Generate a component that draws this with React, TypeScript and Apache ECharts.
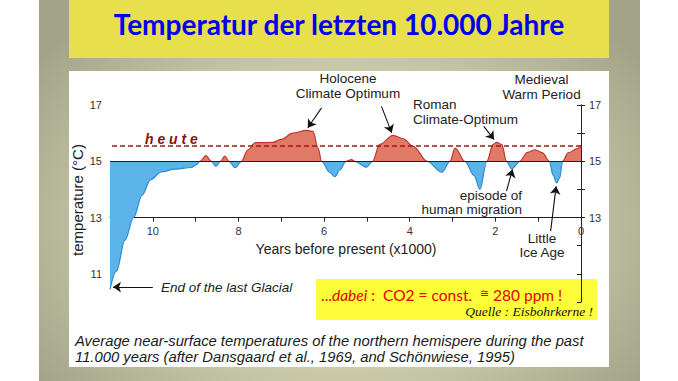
import React, { useEffect, useRef } from "react";
import * as echarts from "echarts";

// Years before present (x1000) and temperature (°C)
const years = [
  11, 10.85, 10.65, 10.45, 10.25, 10.05, 9.8, 9.5, 9.1, 8.98, 8.9, 8.76, 8.63, 8.53, 8.42, 8.32, 8.22, 8.08,
  7.93, 7.78, 7.6, 7.2, 7.0, 6.73, 6.41, 6.26, 6.14, 6.06, 5.86, 5.75, 5.63, 5.49, 5.36, 5.28, 5.01, 4.87,
  4.7, 4.39, 4.15, 3.92, 3.59, 3.25, 3.06, 2.94, 2.71, 2.5, 2.36, 2.2, 2.05, 1.97, 1.85, 1.74, 1.62, 1.43,
  1.25, 1.07, 0.9, 0.74, 0.65, 0.57, 0.5, 0.43, 0.3, 0.1, 0,
];
const temps = [
  10.45, 11.1, 12.2, 13.0, 13.8, 14.35, 14.62, 14.72, 14.78, 14.88, 15.0, 15.2, 15.0, 14.82, 15.0, 15.18, 15.0, 14.77,
  15.0, 15.41, 15.66, 15.67, 15.78, 16.0, 16.1, 16.06, 15.47, 15.0, 14.6, 14.45, 14.7, 15.0, 15.06, 15.0, 14.79, 15.0,
  15.6, 15.92, 15.8, 15.53, 15.0, 14.61, 15.0, 15.47, 15.0, 14.5, 14.0, 15.0, 15.6, 15.67, 15.6, 15.0, 14.73, 15.0,
  15.32, 15.41, 15.3, 15.0, 14.5, 14.23, 14.4, 15.0, 15.3, 15.44, 15.56,
];
const baseline = 15;
const heute = 15.55;
const leftTickLabels = [11, 13, 15, 17];
const rightTickLabels = [13, 15, 17];
const xTickLabels = [10, 8, 6, 4, 2, 0];
// annotation arrows: [from (year, temp), to (year, temp)]
const arrowFrom = [
  [6.06, 16.9], [4.66, 16.95], [2.27, 16.24], [0.84, 17.09], [1.74, 13.94], [0.71, 12.52], [10.0, 10.53],
];
const arrowTo = [
  [6.38, 16.19], [4.42, 16.01], [2.03, 15.77], [1.07, 15.59], [1.6, 14.71], [0.58, 14.11], [10.93, 10.53],
];

const SANS = "'Liberation Sans', Arial, Helvetica, sans-serif";
const TXT = "#222";

function txt(x: number, y: number, text: string, extra: any = {}) {
  return {
    type: "text",
    x,
    y,
    silent: true,
    style: {
      text,
      fill: TXT,
      fontFamily: SANS,
      fontSize: 13.5,
      align: "center",
      verticalAlign: "middle",
      ...extra,
    },
  };
}

export default function App() {
  const ref = useRef<HTMLDivElement>(null);
  useEffect(() => {
    document.body.style.margin = "0";
    const chart = echarts.init(ref.current!, null, { renderer: "svg" });
    const data = years.map((y, i) => [y, temps[i]]);
    const axisLine = { show: true, lineStyle: { color: "#222", width: 1 } };
    const axisTick = { show: true, length: 4, lineStyle: { color: "#222", width: 1 } };
    const labelStyle = { color: "#333", fontSize: 11, fontFamily: SANS, margin: 8 };

    const arrows = arrowFrom.map((f, i) => [
      { coord: f, symbol: "none", lineStyle: { color: "#111", width: 1.1, type: "solid" } },
      { coord: arrowTo[i], symbol: "arrow", symbolSize: 8 },
    ]);

    const option: any = {
      animation: false,
      backgroundColor: "transparent",
      grid: [
        { left: 110, top: 105, width: 471, height: 197, containLabel: false, outerBoundsMode: "none" },
        { left: 110, top: 105, width: 471, height: (197 * 4) / 7, containLabel: false, outerBoundsMode: "none" },
      ],
      xAxis: [
        { gridIndex: 0, type: "value", min: 0, max: 11, inverse: true, show: false },
        {
          gridIndex: 1,
          type: "value",
          min: 0,
          max: 11,
          interval: 1,
          inverse: true,
          position: "bottom",
          axisLine,
          axisTick,
          splitLine: { show: false },
          axisLabel: {
            ...labelStyle,
            formatter: (v: number) => (xTickLabels.includes(v) ? String(v) : ""),
          },
        },
      ],
      yAxis: [
        {
          gridIndex: 0,
          type: "value",
          min: 10,
          max: 17,
          interval: 1,
          position: "left",
          axisLine,
          axisTick,
          splitLine: { show: false },
          axisLabel: {
            ...labelStyle,
            formatter: (v: number) => (leftTickLabels.includes(v) ? String(v) : ""),
          },
        },
        {
          gridIndex: 1,
          type: "value",
          min: 13,
          max: 17,
          interval: 1,
          position: "right",
          axisLine,
          axisTick,
          splitLine: { show: false },
          axisLabel: {
            ...labelStyle,
            formatter: (v: number) => (rightTickLabels.includes(v) ? String(v) : ""),
          },
        },
      ],
      visualMap: [
        {
          type: "piecewise",
          show: false,
          seriesIndex: 0,
          dimension: 1,
          pieces: [
            { gt: baseline, lte: 30, color: "#e07a66" },
            { gte: 0, lte: baseline, color: "#5cb3ea" },
          ],
        },
        {
          type: "piecewise",
          show: false,
          seriesIndex: 1,
          dimension: 1,
          pieces: [
            { gt: baseline, lte: 30, color: "#c2352b" },
            { gte: 0, lte: baseline, color: "#2f8ad4" },
          ],
        },
      ],
      series: [
        {
          type: "line",
          xAxisIndex: 0,
          yAxisIndex: 0,
          data,
          smooth: 0.35,
          smoothMonotone: "x",
          showSymbol: false,
          silent: true,
          lineStyle: { width: 0, opacity: 0 },
          areaStyle: { origin: baseline, opacity: 1 },
          z: 2,
        },
        {
          type: "line",
          xAxisIndex: 0,
          yAxisIndex: 0,
          data,
          smooth: 0.35,
          smoothMonotone: "x",
          showSymbol: false,
          silent: true,
          clip: false,
          lineStyle: { width: 1.2 },
          z: 3,
          markLine: {
            silent: true,
            symbol: "none",
            label: { show: false },
            animation: false,
            data: [
              { yAxis: baseline, lineStyle: { color: "#222", width: 1, type: "solid" } },
              { yAxis: heute, lineStyle: { color: "#a0191a", width: 1.6, type: [5, 3] } },
              ...arrows,
            ],
          },
        },
      ],
      graphic: [
        txt(339, 24, "Temperatur der letzten 10.000 Jahre", {
          fontFamily: "Lato, 'Open Sans', sans-serif",
          fontWeight: "bold",
          fontSize: 28,
          fill: "#0000ee",
        }),
        txt(348, 78.5, "Holocene"),
        txt(348, 93.5, "Climate Optimum"),
        txt(413, 104.5, "Roman", { align: "left" }),
        txt(413, 119, "Climate-Optimum", { align: "left" }),
        txt(541.5, 79, "Medieval"),
        txt(541.5, 94, "Warm Period"),
        txt(522, 195, "episode of", { align: "right" }),
        txt(522, 209, "human migration", { align: "right" }),
        txt(542, 238, "Little"),
        txt(542, 252.5, "Ice Age"),
        txt(161, 287.5, "End of the last Glacial", { align: "left", fontStyle: "italic" }),
        txt(346, 249, "Years before present (x1000)", { fontSize: 14 }),
        {
          type: "text",
          x: 77,
          y: 200,
          rotation: Math.PI / 2,
          silent: true,
          style: {
            text: "temperature (°C)",
            fill: TXT,
            fontFamily: SANS,
            fontSize: 15,
            align: "center",
            verticalAlign: "middle",
          },
        },
        txt(145, 139, "h e u t e", {
          align: "left",
          fontWeight: "bold",
          fontStyle: "italic",
          fontSize: 14,
          fill: "#8b1010",
        }),
        {
          type: "text",
          x: 321,
          y: 295,
          silent: true,
          style: {
            text: "{n|...}{i|dabei}{n| :  CO2 = const.  }{s|≅}{n| 280 ppm !}",
            align: "left",
            verticalAlign: "middle",
            rich: {
              n: { fill: "#e60000", fontSize: 15.5, fontFamily: "Lato, sans-serif" },
              i: { fill: "#e60000", fontSize: 15.5, fontFamily: "Lato, sans-serif", fontStyle: "italic" },
              s: { fill: "#e60000", fontSize: 11, fontFamily: "Lato, sans-serif", verticalAlign: "top" },
            },
          },
        },
        txt(593, 311.5, "Quelle : Eisbohrkerne !", {
          align: "right",
          fontFamily: "'Liberation Serif', 'DejaVu Serif', serif",
          fontStyle: "italic",
          fontSize: 13.5,
          fill: "#111",
        }),
        txt(75, 340.5, "Average near-surface temperatures of the northern hemispere during the past", {
          align: "left",
          fontStyle: "italic",
          fontSize: 14.8,
          fill: "#1a1a1a",
        }),
        txt(75, 356.5, "11.000 years (after Dansgaard et al., 1969, and Schönwiese, 1995)", {
          align: "left",
          fontStyle: "italic",
          fontSize: 14.8,
          fill: "#1a1a1a",
        }),
      ],
    };
    chart.setOption(option);
    return () => chart.dispose();
  }, []);

  return (
    <div style={{ position: "relative", width: 678, height: 381, background: "#fff", overflow: "hidden" }}>
      <div
        style={{
          position: "absolute",
          left: 39,
          top: 0,
          width: 601,
          height: 381,
          background:
            "radial-gradient(ellipse 62% 72% at 50% 58%, #e3e3c6 0%, #cacaab 55%, #a3a388 100%)",
        }}
      />
      <div style={{ position: "absolute", left: 69, top: 0, width: 540, height: 58, background: "#e8df4c" }} />
      <div style={{ position: "absolute", left: 69, top: 71, width: 540, height: 296, background: "#fff" }} />
      <div style={{ position: "absolute", left: 316, top: 279, width: 281, height: 41, background: "#fdfd3a" }} />
      <div ref={ref} style={{ position: "absolute", left: 0, top: 0, width: 678, height: 381 }} />
    </div>
  );
}
